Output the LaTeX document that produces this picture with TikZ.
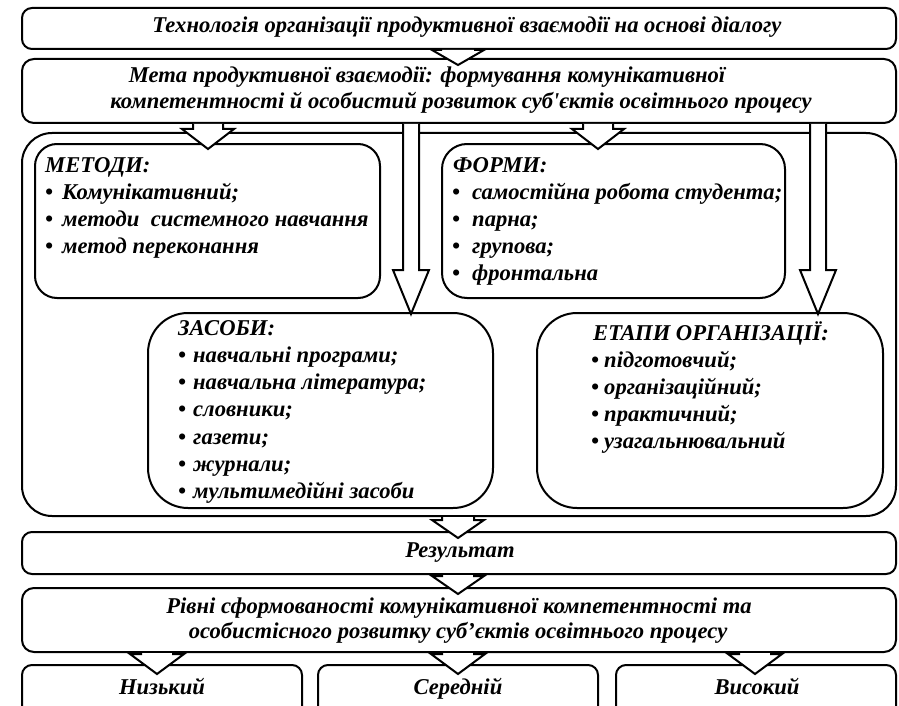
\documentclass[tikz,border=0pt]{standalone}
\usepackage{fontspec}
\newfontfamily\diagfont{Liberation Serif}
\usetikzlibrary{calc}

\tikzset{
  box/.style={draw, line width=2pt, rounded corners=#1, inner sep=0pt},
  box/.default=10pt,
  txt/.style={font=\diagfont\bfseries\itshape\fontsize{22.6}{27}\selectfont, inner sep=0pt},
  blockarr/.style={draw, line width=2pt, fill=white, line join=miter},
}

% block arrow: x, from node, to node, half shaft, half head, head length, overlap
\newcommand\blockarrow[7]{%
  \draw[blockarr] let \p1=(#2.south), \p2=(#3.north) in
    (#1pt-#4pt,\y1) -- (#1pt-#4pt,\y2-#7pt+#6pt) -- (#1pt-#5pt,\y2-#7pt+#6pt) -- (#1pt,\y2-#7pt)
    -- (#1pt+#5pt,\y2-#7pt+#6pt) -- (#1pt+#4pt,\y2-#7pt+#6pt) -- (#1pt+#4pt,\y1);}

\begin{document}
\begin{tikzpicture}[x=1pt,y=-1pt]
\useasboundingbox (0,0) rectangle (899,706);
\clip (0,0) rectangle (899,706);

% boxes
\node[box=10pt, minimum width=874pt, minimum height=41pt] (tech) at (459,28.5) {};
\node[box=12pt, minimum width=874pt, minimum height=64pt] (meta) at (459,91) {};
\node[box=30pt, minimum width=874pt, minimum height=383pt] (whole) at (459,324.5) {};
\node[box=22pt, minimum width=345pt, minimum height=154pt] (metody) at (207.5,221) {};
\node[box=25pt, minimum width=343pt, minimum height=154pt] (formy) at (613.5,221) {};
\node[box=40pt, minimum width=345pt, minimum height=195pt] (zasoby) at (320.5,410.5) {};
\node[box=40pt, minimum width=346pt, minimum height=195pt] (etapy) at (710,410.5) {};
\node[box=10pt, minimum width=874pt, minimum height=42pt] (result) at (459,553) {};
\node[box=12pt, minimum width=874pt, minimum height=64pt] (rivni) at (459,620) {};
\node[box=10pt, minimum width=280pt, minimum height=60pt] (low) at (162,695) {};
\node[box=10pt, minimum width=280pt, minimum height=60pt] (mid) at (458,695) {};
\node[box=10pt, minimum width=280pt, minimum height=60pt] (high) at (756,695) {};

% texts
\node[txt, anchor=base] (tech-t) at (467,33) {Технологія організації продуктивної взаємодії на основі діалогу};
\node[txt, anchor=base] (meta-1) at (427,83) {Мета продуктивної взаємодії: формування комунікативної};
\node[txt, anchor=base] (meta-2) at (461,109) {компетентності й особистий розвиток суб'єктів освітнього процесу};

\node[txt, anchor=base west] (metody-0) at (45,172) {МЕТОДИ:};
\foreach \t [count=\i] in {Комунікативний;, методи~~системного навчання, метод переконання}
  \node[txt, anchor=base west] (metody-\i) at (45,172+27*\i) {\makebox[17pt][l]{\textbullet}\t};

\node[txt, anchor=base west] (formy-0) at (453,172) {ФОРМИ:};
\foreach \t [count=\i] in {самостійна робота студента;, парна;, групова;, фронтальна}
  \node[txt, anchor=base west] (formy-\i) at (452,172+27*\i) {\makebox[20pt][l]{\textbullet}\t};

\node[txt, anchor=base west] (zasoby-0) at (178,335) {ЗАСОБИ:};
\foreach \t [count=\i] in {навчальні програми;, навчальна література;, словники;, газети;, журнали;, мультимедійні засоби}
  \node[txt, anchor=base west] (zasoby-\i) at (178,335+27.3*\i) {\makebox[15pt][l]{\textbullet}\t};

\node[txt, anchor=base west] (etapy-0) at (593,340) {ЕТАПИ ОРГАНІЗАЦІЇ:};
\foreach \t [count=\i] in {підготовчий;, організаційний;, практичний;, узагальнювальний}
  \node[txt, anchor=base west] (etapy-\i) at (591,340+27*\i) {\makebox[13pt][l]{\textbullet}\t};

\node[txt, anchor=base] (result-t) at (460,557) {Результат};
\node[txt, anchor=base] (rivni-1) at (459,613) {Рівні сформованості комунікативної компетентності та};
\node[txt, anchor=base] (rivni-2) at (458,638) {особистісного розвитку суб’єктів освітнього процесу};
\node[txt, anchor=base] (low-t) at (162,694) {Низький};
\node[txt, anchor=base] (mid-t) at (458,694) {Середній};
\node[txt, anchor=base] (high-t) at (757,694) {Високий};

% arrows
\blockarrow{458}{tech}{meta}{16}{26}{15}{7}
\blockarrow{208}{meta}{metody}{15}{26}{20}{6}
\blockarrow{598}{meta}{formy}{15}{26}{20}{6}
\blockarrow{411}{meta}{zasoby}{8}{18}{44}{2}
\blockarrow{818}{meta}{etapy}{8}{18}{44}{2}
\blockarrow{458}{whole}{result}{16}{26}{18}{7}
\blockarrow{458}{result}{rivni}{16}{26}{18}{7}
\blockarrow{157}{rivni}{low}{16}{27}{20}{10}
\blockarrow{458}{rivni}{mid}{16}{27}{20}{10}
\blockarrow{755}{rivni}{high}{16}{27}{20}{10}

\end{tikzpicture}
\end{document}
